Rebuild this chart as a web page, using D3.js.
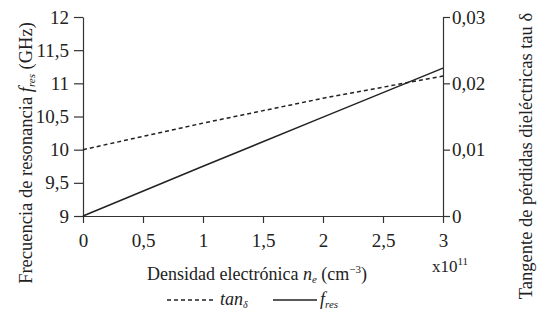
<!DOCTYPE html>
<html>
<head>
<meta charset="utf-8">
<script src="https://cdn.jsdelivr.net/npm/d3@7"></script>
<style>
  body { margin: 0; background: #fff; }
  svg text { font-family: "Liberation Serif", "DejaVu Serif", serif; fill: #222; }
</style>
</head>
<body>
<div id="chart"></div>
<script>
const density = [0, 1, 2, 3];
const fres = [9, 9.75, 10.49, 11.23];
const tanDelta = [0.01, 0.014, 0.01775, 0.0211];
const xTicks = [0, 0.5, 1, 1.5, 2, 2.5, 3];
const leftTicks = [9, 9.5, 10, 10.5, 11, 11.5, 12];
const rightTicks = [0, 0.01, 0.02, 0.03];

const width = 539, height = 313;
const margin = { top: 17, right: 96, bottom: 97, left: 83 };
const serif = '"Liberation Serif", "DejaVu Serif", serif';

const svg = d3.select('#chart')
  .append('svg')
  .attr('width', width)
  .attr('height', height);

const x = d3.scaleLinear().domain([0, 3]).range([margin.left, width - margin.right]);
const yL = d3.scaleLinear().domain([9, 12]).range([height - margin.bottom, margin.top]);
const yR = d3.scaleLinear().domain([0, 0.03]).range([height - margin.bottom, margin.top]);

const comma = d => String(d).replace('.', ',');

const gx = svg.append('g')
  .attr('transform', `translate(0,${height - margin.bottom})`)
  .call(d3.axisBottom(x).tickValues(xTicks).tickFormat(comma).tickSize(7).tickSizeOuter(0).tickPadding(11));

const gl = svg.append('g')
  .attr('transform', `translate(${margin.left},0)`)
  .call(d3.axisLeft(yL).tickValues(leftTicks).tickFormat(comma).tickSize(9).tickSizeOuter(0).tickPadding(5));

const gr = svg.append('g')
  .attr('transform', `translate(${width - margin.right},0)`)
  .call(d3.axisRight(yR).tickValues(rightTicks).tickFormat(comma).tickSize(7).tickSizeOuter(0).tickPadding(2));

[gx, gl, gr].forEach(g => {
  g.attr('font-family', serif).attr('font-size', 19);
  g.selectAll('text').style('font-family', serif).style('font-size', '19px').attr('fill', '#222');
  g.selectAll('line, path').attr('stroke', '#333').attr('stroke-width', 1.2);
});

// lineas
const lineL = d3.line().x((d, i) => x(density[i])).y(d => yL(d));
const lineR = d3.line().x((d, i) => x(density[i])).y(d => yR(d));

svg.append('path')
  .datum(tanDelta)
  .attr('fill', 'none')
  .attr('stroke', '#222')
  .attr('stroke-width', 1.5)
  .attr('stroke-dasharray', '4,3')
  .attr('d', lineR);

svg.append('path')
  .datum(fres)
  .attr('fill', 'none')
  .attr('stroke', '#222')
  .attr('stroke-width', 1.5)
  .attr('d', lineL);

// titulos de ejes
const xt = svg.append('text')
  .attr('x', 257).attr('y', 280)
  .attr('text-anchor', 'middle')
  .style('font-size', '18px');
xt.append('tspan').text('Densidad electrónica ');
xt.append('tspan').style('font-style', 'italic').text('n');
xt.append('tspan').style('font-style', 'italic').style('font-size', '11px').attr('dy', 3).text('e');
xt.append('tspan').attr('dy', -3).text(' (cm');
xt.append('tspan').style('font-size', '11px').attr('dy', -7).text('−3');
xt.append('tspan').attr('dy', 7).text(')');

const xe = svg.append('text')
  .attr('x', 432).attr('y', 272)
  .style('font-size', '17px');
xe.append('tspan').text('x10');
xe.append('tspan').style('font-size', '11px').attr('dy', -7).text('11');

const yt = svg.append('text')
  .attr('transform', 'translate(32,153) rotate(-90)')
  .attr('text-anchor', 'middle')
  .style('font-size', '18.5px');
yt.append('tspan').text('Frecuencia de resonancia ');
yt.append('tspan').style('font-style', 'italic').text('f');
yt.append('tspan').style('font-style', 'italic').style('font-size', '11px').attr('dy', 3).text('res');
yt.append('tspan').attr('dy', -3).text(' (GHz)');

svg.append('text')
  .attr('transform', 'translate(532,156) rotate(-90)')
  .attr('text-anchor', 'middle')
  .style('font-size', '18.5px')
  .text('Tangente de pérdidas dieléctricas tau δ');

// leyenda
const leg = svg.append('g');
leg.append('line').attr('x1', 167).attr('x2', 213).attr('y1', 300).attr('y2', 300)
  .attr('stroke', '#222').attr('stroke-width', 1.5).attr('stroke-dasharray', '4,3');
const l1 = leg.append('text').attr('x', 220).attr('y', 305).style('font-size', '18px').style('font-style', 'italic');
l1.append('tspan').text('tan');
l1.append('tspan').style('font-size', '10px').attr('dy', 3).text('δ');

leg.append('line').attr('x1', 273).attr('x2', 317).attr('y1', 300).attr('y2', 300)
  .attr('stroke', '#222').attr('stroke-width', 1.5);
const l2 = leg.append('text').attr('x', 320).attr('y', 305).style('font-size', '18px').style('font-style', 'italic');
l2.append('tspan').text('f');
l2.append('tspan').style('font-size', '11px').attr('dy', 3).text('res');
</script>
</body>
</html>
